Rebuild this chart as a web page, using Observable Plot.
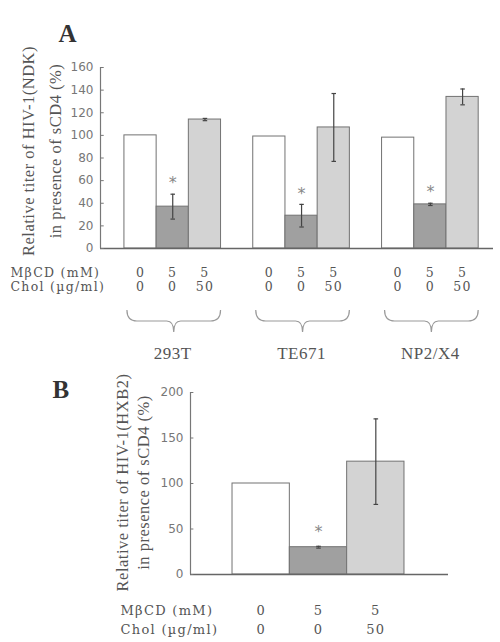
<!DOCTYPE html>
<html><head><meta charset="utf-8">
<script src="https://cdn.jsdelivr.net/npm/d3@7"></script>
<script src="https://cdn.jsdelivr.net/npm/@observablehq/plot@0.6"></script>
<style>
body{margin:0;background:#fff;}
#chart svg{display:block;}
#chart g[font-family*="DejaVu Serif"] text{letter-spacing:1.3px;}
#chart g[font-family*="Liberation Serif"] text{letter-spacing:0.5px;}
</style>
</head><body><div id="chart"></div>
<script>
// ---- data ----
const cellsA = ["293T", "TE671", "NP2/X4"];
const mbcdLevels = ["0", "5", "5"];
const cholLevels = ["0", "0", "50"];
const titer293T = [100, 37, 114];
const sd293T = [0, 11, 1];
const titerTE671 = [99, 29, 107];
const sdTE671 = [0, 10, 30];
const titerNP2X4 = [98, 39, 134];
const sdNP2X4 = [0, 1, 7];
const titerHXB2 = [100, 30, 124];
const sdHXB2 = [0, 1, 47];
const significant = [false, true, false];
const yTicksA = [0, 20, 40, 60, 80, 100, 120, 140, 160];
const yTicksB = [0, 50, 100, 150, 200];
const rowLabels = ["MβCD (mM)", "Chol (µg/ml)"];
const titleA = ["Relative titer of HIV-1(NDK)", "in presence of sCD4 (%)"];
const titleB = ["Relative titer of HIV-1(HXB2)", "in presence of sCD4 (%)"];

// ---- styles ----
const serif = "'Liberation Serif', 'Times New Roman', serif";
const wideSerif = "'DejaVu Serif', serif";
const sans = "'DejaVu Sans', 'Liberation Sans', sans-serif";
const fills = ["#ffffff", "#a0a0a0", "#d3d3d3"];
const textColor = "#555";

const seriesA = [titer293T, titerTE671, titerNP2X4];
const sdA = [sd293T, sdTE671, sdNP2X4];
const rowsA = cellsA.flatMap((cell, g) => seriesA[g].map((v, i) => ({
  cell, g, i, pos: g * 4 + i, value: v, sd: sdA[g][i],
  mbcd: mbcdLevels[i], chol: cholLevels[i], sig: significant[i]
})));
const rowsB = titerHXB2.map((v, i) => ({
  g: 0, i, pos: i, value: v, sd: sdHXB2[i],
  mbcd: mbcdLevels[i], chol: cholLevels[i], sig: significant[i]
}));

function barMarks(rows, capHalf, starDy) {
  const err = rows.filter(d => d.sd > 0);
  return [
    Plot.rectY(rows, {x1: d => d.pos - 0.5, x2: d => d.pos + 0.5, y1: 0, y2: "value",
      fill: d => fills[d.i], stroke: "#727272", strokeWidth: 1}),
    Plot.ruleX(err, {x: "pos", y1: d => d.value - d.sd, y2: d => d.value + d.sd, stroke: "#444", strokeWidth: 1.2}),
    Plot.link(err, {x1: d => d.pos - capHalf, x2: d => d.pos + capHalf, y1: d => d.value + d.sd, y2: d => d.value + d.sd, stroke: "#444", strokeWidth: 1.2}),
    Plot.link(err, {x1: d => d.pos - capHalf, x2: d => d.pos + capHalf, y1: d => d.value - d.sd, y2: d => d.value - d.sd, stroke: "#444", strokeWidth: 1.2}),
    Plot.text(rows.filter(d => d.sig), {x: "pos", y: d => d.value + d.sd, text: () => "*",
      dy: starDy, fontSize: 16, fill: "#888", fontFamily: sans})
  ];
}

function conditionMarks(rows, labelDx, dy1, dy2, fs) {
  const common = {fontSize: fs, fontFamily: wideSerif, fill: textColor};
  return [
    Plot.text([rowLabels[0]], {frameAnchor: "bottom-left", text: d => d, dx: labelDx, dy: dy1, textAnchor: "start", ...common}),
    Plot.text([rowLabels[1]], {frameAnchor: "bottom-left", text: d => d, dx: labelDx, dy: dy2, textAnchor: "start", ...common}),
    Plot.text(rows, {x: "pos", text: "mbcd", frameAnchor: "bottom", dy: dy1, ...common}),
    Plot.text(rows, {x: "pos", text: "chol", frameAnchor: "bottom", dy: dy2, ...common})
  ];
}

function axisMarks(ticks, x0, tickLen) {
  return [
    Plot.ruleX([x0], {stroke: "#777", strokeWidth: 1.2}),
    Plot.link(ticks, {x1: x0, x2: x0 + tickLen, y1: d => d, y2: d => d, stroke: "#777"}),
    Plot.axisY(ticks, {tickSize: 0, tickPadding: 7, fontSize: 12, fill: "#777", fontFamily: sans, label: null})
  ];
}

function titleMarks(lines, dx1, dx2, dy, fs) {
  const common = {frameAnchor: "left", text: d => d, rotate: -90, textAnchor: "middle", dy, fontSize: fs, fontFamily: serif, fill: textColor};
  return [
    Plot.text([lines[0]], {dx: dx1, ...common}),
    Plot.text([lines[1]], {dx: dx2, ...common})
  ];
}

// ---- Panel A ----
const xDomainA = [-1.243, 10.96];
const plotA = Plot.plot({
  width: 500, height: 365,
  marginLeft: 100, marginRight: 7, marginTop: 67, marginBottom: 117,
  x: {domain: xDomainA, axis: null},
  y: {domain: [0, 160], axis: null},
  marks: [
    ...barMarks(rowsA, 0.07, -11),
    Plot.ruleY([0], {stroke: "#666", strokeWidth: 1.5}),
    ...axisMarks(yTicksA, xDomainA[0], 0.1),
    Plot.text(["A"], {frameAnchor: "top-left", text: d => d, textAnchor: "start", dx: -42, dy: -43, fontSize: 25, fontWeight: "bold", fontFamily: serif, fill: "#333"}),
    ...titleMarks(titleA, -72, -45, -7, 16.5),
    ...conditionMarks(rowsA, -90, 28, 42, 12.5),
    Plot.text(cellsA, {x: (d, g) => g * 4 + 1, text: d => d, frameAnchor: "bottom", dy: 110, fontSize: 17, fontFamily: serif, fill: textColor}),
    (index, scales, values, dims) => {
      const g = d3.create("svg:g").attr("fill", "none").attr("stroke", "#9a9a9a").attr("stroke-width", 1.2);
      const yb = dims.height - dims.marginBottom;
      cellsA.forEach((c, k) => {
        const x0 = scales.x(k * 4 - 0.5) + 3, x1 = scales.x(k * 4 + 2.5), xc = (x0 + x1) / 2;
        const y0 = yb + 62, y1 = yb + 73, y2 = yb + 84;
        g.append("path").attr("d",
          `M${x0},${y0} Q${x0},${y1} ${x0 + 10},${y1} L${xc - 7},${y1} Q${xc},${y1} ${xc},${y2} Q${xc},${y1} ${xc + 7},${y1} L${x1 - 10},${y1} Q${x1},${y1} ${x1},${y0}`);
      });
      return g.node();
    }
  ]
});

// ---- Panel B ----
const xDomainB = [-1.233, 3.268];
const plotB = Plot.plot({
  width: 500, height: 277,
  marginLeft: 190, marginRight: 52, marginTop: 27, marginBottom: 68,
  x: {domain: xDomainB, axis: null},
  y: {domain: [0, 200], axis: null},
  marks: [
    ...barMarks(rowsB, 0.04, -14),
    Plot.ruleY([0], {stroke: "#666", strokeWidth: 1.5}),
    ...axisMarks(yTicksB, xDomainB[0], 0.05),
    Plot.text(["B"], {frameAnchor: "top-left", text: d => d, textAnchor: "start", dx: -138, dy: -12, fontSize: 25, fontWeight: "bold", fontFamily: serif, fill: "#333"}),
    ...titleMarks(titleB, -68, -47, -1, 16.5),
    ...conditionMarks(rowsB, -70, 40, 59, 13)
  ]
});

document.getElementById("chart").append(plotA, plotB);
</script>
</body></html>
